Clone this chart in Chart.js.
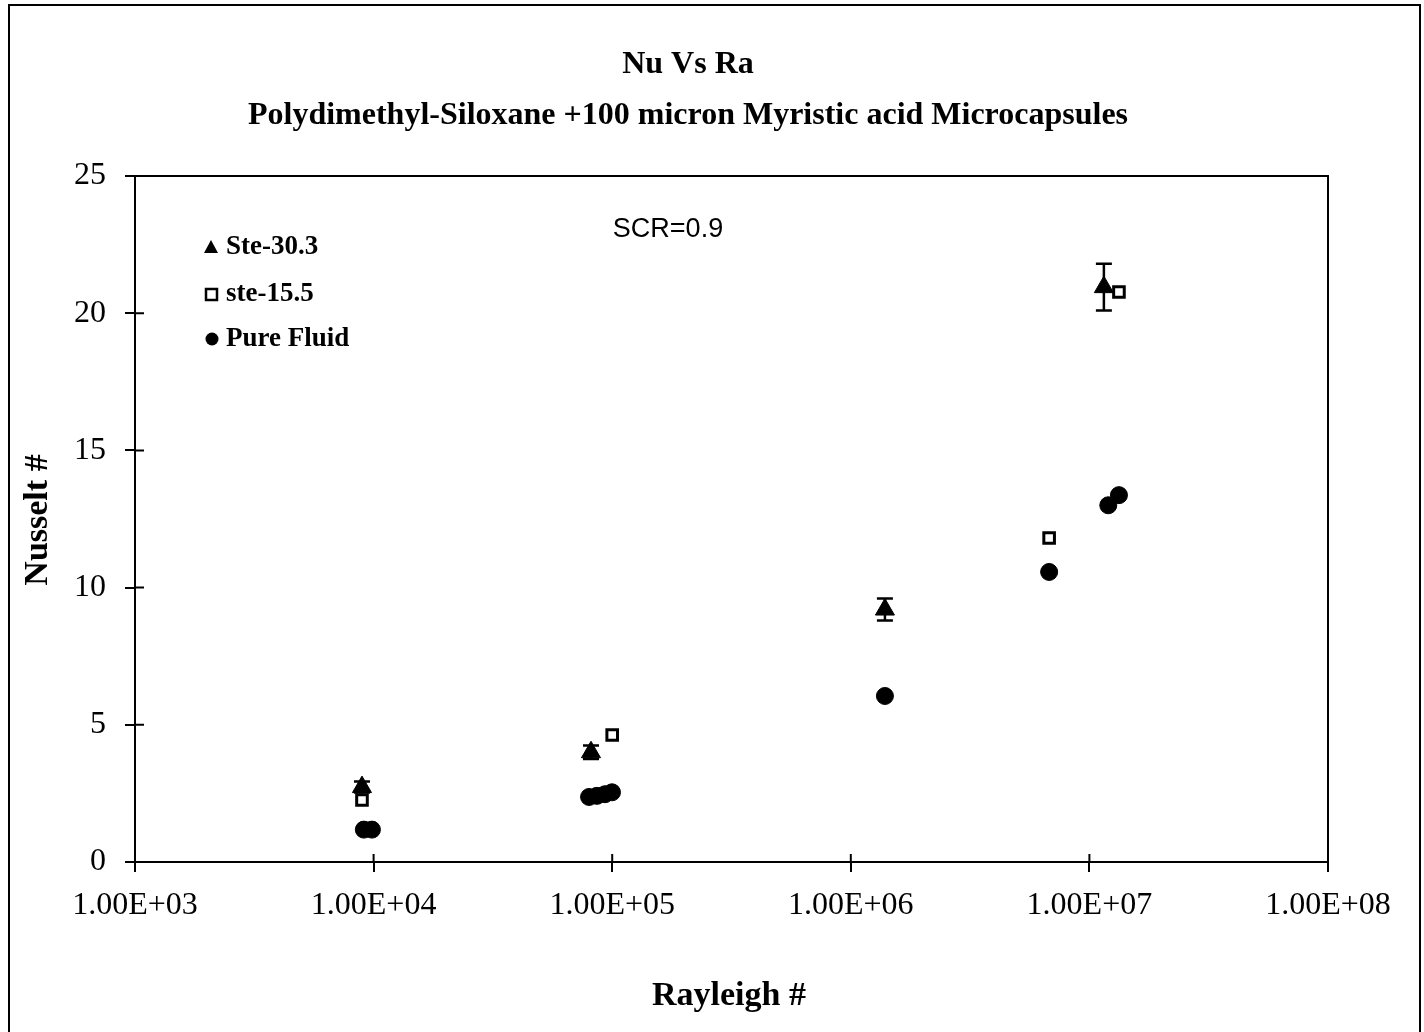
<!DOCTYPE html>
<html>
<head>
<meta charset="utf-8">
<script src="https://cdn.jsdelivr.net/npm/chart.js@4"></script>
<style>
  body { margin: 0; background: #fff; }
  #wrap { width: 1424px; height: 1032px; }
</style>
</head>
<body>
<div id="wrap"><canvas id="myChart" width="1424" height="1032"></canvas></div>
<script>
// data
const xTicks = [1e3, 1e4, 1e5, 1e6, 1e7, 1e8];
const xTickLabels = ['1.00E+03', '1.00E+04', '1.00E+05', '1.00E+06', '1.00E+07', '1.00E+08'];
const yTicks = [0, 5, 10, 15, 20, 25];

const steHighRa = [8.94e3, 8.15e4, 1.39e6, 1.15e7];
const steHighNu = [2.73, 4.0, 9.2, 20.95];
const steHighErr = [0.2, 0.25, 0.4, 0.85];

const steLowRa = [8.94e3, 1.0e5, 6.78e6, 1.33e7];
const steLowNu = [2.26, 4.63, 11.81, 20.77];

const pureRa = [9.1e3, 9.84e3, 8.0e4, 8.63e4, 9.33e4, 9.98e4, 1.39e6, 6.78e6, 1.2e7, 1.33e7];
const pureNu = [1.18, 1.18, 2.37, 2.41, 2.47, 2.54, 6.05, 10.57, 13.0, 13.37];

const seriesNames = ['Ste-30.3', 'ste-15.5', 'Pure Fluid'];
const titleLines = ['Nu Vs Ra', 'Polydimethyl-Siloxane +100 micron Myristic acid Microcapsules'];
const xTitle = 'Rayleigh #';
const yTitle = 'Nusselt #';
const noteText = 'SCR=0.9';

const serif = '"Liberation Serif", "Times New Roman", serif';

function toPoints(xs, ys) {
    return xs.map((x, i) => ({ x: x, y: ys[i] }));
}

// extra drawing: box, inner tick halves, error bars, titles, legend
const extras = {
    id: 'extras',
    afterDatasetsDraw(chart) {
        const c = chart.ctx;
        const a = chart.chartArea;
        const xs = chart.scales.x;
        const ys = chart.scales.y;
        c.save();
        c.strokeStyle = '#000';
        c.lineWidth = 2;
        c.strokeRect(a.left, a.top, a.right - a.left, a.bottom - a.top);

        // tick marks cross the axis
        c.beginPath();
        yTicks.forEach(v => {
            const py = ys.getPixelForValue(v);
            c.moveTo(a.left, py); c.lineTo(a.left + 9, py);
        });
        xTicks.forEach(v => {
            const px = xs.getPixelForValue(v);
            c.moveTo(px, a.bottom); c.lineTo(px, a.bottom - 8);
        });
        c.stroke();

        // error bars on Ste-30.3
        c.lineWidth = 2.5;
        steHighRa.forEach((x, i) => {
            const px = xs.getPixelForValue(x);
            const top = ys.getPixelForValue(steHighNu[i] + steHighErr[i]);
            const bot = ys.getPixelForValue(steHighNu[i] - steHighErr[i]);
            c.beginPath();
            c.moveTo(px, top); c.lineTo(px, bot);
            c.moveTo(px - 8, top); c.lineTo(px + 8, top);
            c.moveTo(px - 8, bot); c.lineTo(px + 8, bot);
            c.stroke();
        });

        // outer frame
        c.lineWidth = 2;
        c.beginPath();
        c.moveTo(9, 1032); c.lineTo(9, 5); c.lineTo(1420, 5); c.lineTo(1420, 1032);
        c.stroke();

        // titles
        c.fillStyle = '#000';
        c.textAlign = 'center';
        c.textBaseline = 'middle';
        c.font = 'bold 32px ' + serif;
        c.fillText(titleLines[0], 688, 65);
        c.font = 'bold 32px ' + serif;
        c.fillText(titleLines[1], 688, 116);
        c.font = 'bold 34px ' + serif;
        c.fillText(xTitle, 729, 996);
        c.save();
        c.translate(38, 520);
        c.rotate(-Math.PI / 2);
        c.fillText(yTitle, 0, 0);
        c.restore();

        // note
        c.font = '27px "Liberation Sans", Arial, sans-serif';
        c.fillText(noteText, 668, 230);

        // legend
        c.textAlign = 'left';
        c.font = 'bold 27px ' + serif;
        const ly = [247, 294, 339];
        seriesNames.forEach((name, i) => {
            c.fillText(name, 226, ly[i]);
        });
        c.beginPath();
        c.moveTo(211, ly[0] - 7); c.lineTo(218, ly[0] + 6); c.lineTo(204, ly[0] + 6);
        c.closePath(); c.fill();
        c.lineWidth = 2.5;
        c.strokeRect(206, ly[1] - 5, 11, 11);
        c.beginPath();
        c.arc(212, ly[2], 6.5, 0, Math.PI * 2);
        c.fill();
        c.restore();
    }
};

const ctx = document.getElementById('myChart');
const myChart = new Chart(ctx, {
    type: 'scatter',
    data: {
        datasets: [{
            label: seriesNames[0],
            data: toPoints(steHighRa, steHighNu),
            pointStyle: 'triangle',
            pointRadius: 11,
            backgroundColor: '#000',
            borderColor: '#000',
            borderWidth: 1
        }, {
            label: seriesNames[1],
            data: toPoints(steLowRa, steLowNu),
            pointStyle: 'rect',
            pointRadius: 7.5,
            backgroundColor: '#fff',
            borderColor: '#000',
            borderWidth: 3
        }, {
            label: seriesNames[2],
            data: toPoints(pureRa, pureNu),
            pointStyle: 'circle',
            pointRadius: 8.5,
            backgroundColor: '#000',
            borderColor: '#000',
            borderWidth: 1
        }]
    },
    options: {
        responsive: false,
        animation: false,
        layout: { padding: { left: 0, top: 176, right: 96, bottom: 0 } },
        plugins: {
            legend: { display: false },
            tooltip: { enabled: false }
        },
        scales: {
            x: {
                type: 'logarithmic',
                min: 1e3,
                max: 1e8,
                afterBuildTicks: function (scale) {
                    scale.ticks = xTicks.map(v => ({ value: v }));
                },
                afterFit: function (scale) { scale.height = 170; },
                ticks: {
                    autoSkip: false,
                    maxRotation: 0,
                    padding: 14,
                    color: '#000',
                    font: { family: serif, size: 32 },
                    callback: function (v, i) { return xTickLabels[i]; }
                },
                grid: { drawOnChartArea: false, tickLength: 10, color: '#000', lineWidth: 2 },
                border: { color: '#000', width: 2 }
            },
            y: {
                min: 0,
                max: 25,
                afterBuildTicks: function (scale) {
                    scale.ticks = yTicks.map(v => ({ value: v }));
                },
                afterFit: function (scale) { scale.width = 135; },
                ticks: {
                    padding: 19,
                    color: '#000',
                    font: { family: serif, size: 32 }
                },
                grid: { drawOnChartArea: false, tickLength: 10, color: '#000', lineWidth: 2 },
                border: { color: '#000', width: 2 }
            }
        }
    },
    plugins: [extras]
});
</script>
</body>
</html>
